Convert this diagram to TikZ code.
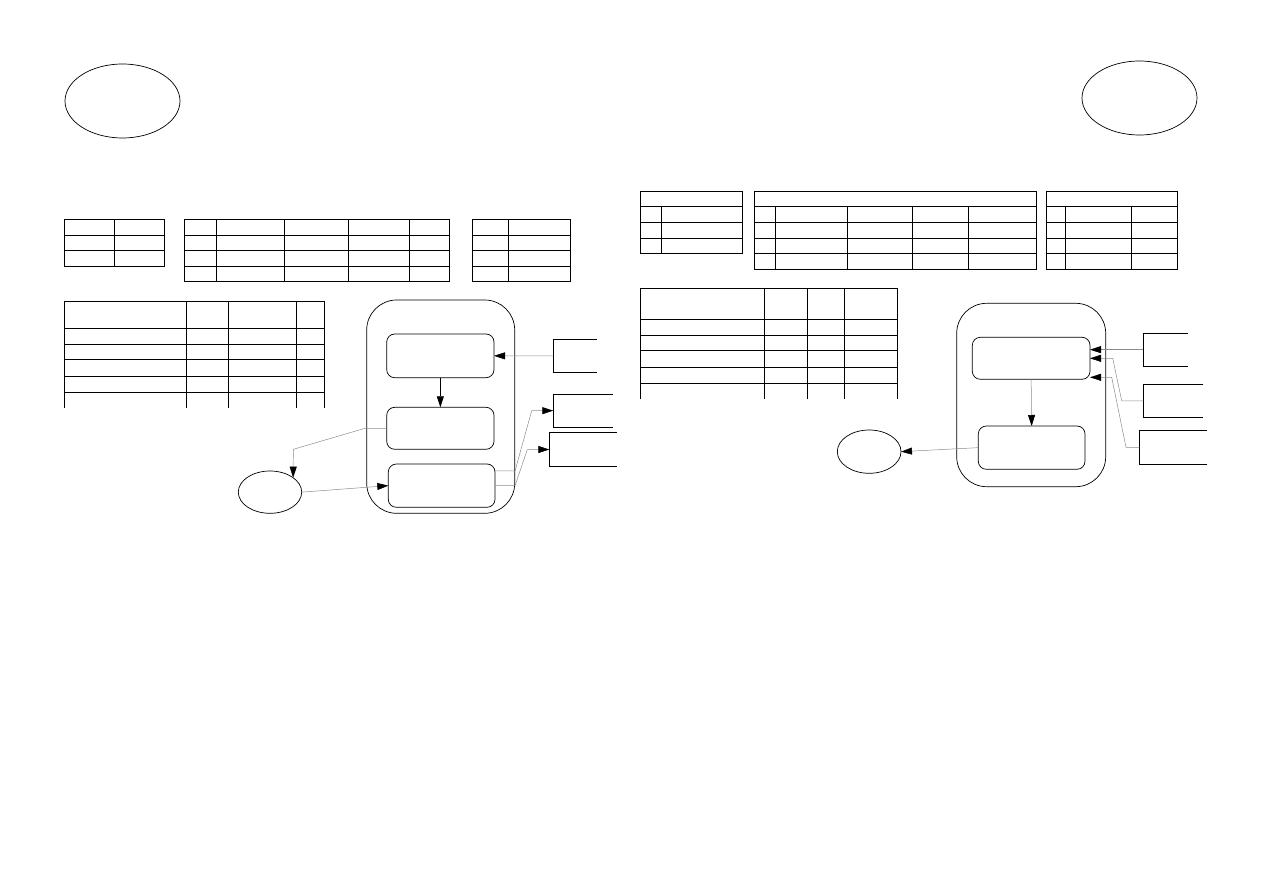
\documentclass[tikz,border=0pt]{standalone}
\usetikzlibrary{arrows.meta,shapes.geometric}
\tikzset{
  tbl/.style={line width=0.9pt, black, line cap=rect},
  shp/.style={draw, line width=0.7pt, inner sep=0pt, outer sep=0pt},
  inbox/.style={shp, rounded corners=8pt},
  outbox/.style={shp, rounded corners=30pt},
  ell/.style={shp, ellipse},
  stub/.style={inner sep=0pt, outer sep=0pt},
  stubline/.style={line width=0.7pt},
  tip/.style={-{Triangle[length=11pt,width=7pt,color=black]}},
  conn/.style={tip, black!45, line width=0.5pt},
  bconn/.style={tip, black, line width=0.7pt}
}
\newcommand\boxat[6]{\node[#1, minimum width={(#5-#3)*1pt}, minimum height={(#6-#4)*1pt}] (#2) at ({(#3+#5)/2},{(#4+#6)/2}) {};}
\newcommand\stubbox[1]{\draw[stubline] (#1.north east) -- (#1.north west) -- (#1.south west) -- (#1.south east);}
\begin{document}
\begin{tikzpicture}[x=1pt,y=-1pt]
\useasboundingbox (0,0) rectangle (1263,893);

% top ellipses
\boxat{ell}{topL}{65}{64}{180}{138}
\boxat{ell}{topR}{1082}{61}{1197}{135}

% ---------- left tables ----------
% Table A
\draw[tbl] (64.3,219.3) rectangle (164.3,266);
\draw[tbl] (64.3,235) -- (164.3,235) (64.3,250.7) -- (164.3,250.7) (114.3,219.3) -- (114.3,266);
% Table B
\draw[tbl] (184.3,219.3) rectangle (449.3,281.3);
\foreach \y in {235,250.7,266.3} \draw[tbl] (184.3,\y) -- (449.3,\y);
\foreach \x in {216.3,284.7,348.7,409.3} \draw[tbl] (\x,219.3) -- (\x,281.3);
% Table C
\draw[tbl] (472.3,219.3) rectangle (570,281.3);
\foreach \y in {235,250.7,266.3} \draw[tbl] (472.3,\y) -- (570,\y);
\draw[tbl] (508.7,219.3) -- (508.7,281.3);
% Table D
\foreach \x in {64.3,186.7,228.7,296.7,324.3} \draw[tbl] (\x,301.7) -- (\x,407.3);
\foreach \y in {301.7,328.3,344,359.3,376.3,392.3} \draw[tbl] (64.3,\y) -- (324.3,\y);

% ---------- right tables ----------
% Table E
\draw[tbl] (640.3,191.7) rectangle (742.3,253);
\foreach \y in {206,222.3,238.3} \draw[tbl] (640.3,\y) -- (742.3,\y);
\draw[tbl] (661.7,206) -- (661.7,253);
% Table F
\draw[tbl] (754.3,191.7) rectangle (1036,269);
\foreach \y in {206.7,222.3,238.3,253.7} \draw[tbl] (754.3,\y) -- (1036,\y);
\foreach \x in {775.3,847.3,912.3,968.7} \draw[tbl] (\x,206.7) -- (\x,269);
% Table G
\draw[tbl] (1046,191.7) rectangle (1177.3,269);
\foreach \y in {206.7,222.3,238.3,253.7} \draw[tbl] (1046,\y) -- (1177.3,\y);
\foreach \x in {1065.7,1131.7} \draw[tbl] (\x,206.7) -- (\x,269);
% Table H
\foreach \x in {640.3,764.7,807.7,844.7,897.3} \draw[tbl] (\x,288.3) -- (\x,398.3);
\foreach \y in {288.3,319.7,335.3,350.7,367.3,383.3} \draw[tbl] (640.3,\y) -- (897.3,\y);

% ---------- left diagram ----------
\boxat{outbox}{outL}{366.7}{300}{514.7}{513.3}
\boxat{inbox}{b11}{386.7}{334}{494}{377.7}
\boxat{inbox}{b12}{386.7}{407.3}{494}{449.3}
\boxat{inbox}{b13}{388.3}{464}{495}{507.3}
\boxat{ell}{e1}{238.3}{471}{301.7}{513.3}
\boxat{stub}{r11}{553.3}{339.3}{596.7}{372.3}
\boxat{stub}{r12}{553.3}{394}{612.7}{427.3}
\boxat{stub}{r13}{549.3}{432.3}{616.7}{466.7}
\stubbox{r11}
\stubbox{r12}
\stubbox{r13}

\draw[bconn] (b11.south) -- (b12.north);
\draw[conn] (b12.west) -- (365,428.3) -- (293.3,449.3) -- (e1.32);
\draw[conn] (e1.east) -- (b13.west);
\draw[conn] (r11.west) -- (b11.east);
\draw[conn] ([yshift=14.7pt]b13.east) -- (515,471) -- (531.7,410.7) -- (r12.west);
\draw[conn] (b13.east) -- (515,485.7) -- (527.3,449.5) -- (r13.west);

% ---------- right diagram ----------
\boxat{outbox}{outR}{956.7}{303.3}{1105.7}{486.7}
\boxat{inbox}{b21}{972.3}{337.3}{1090}{379.3}
\boxat{inbox}{b22}{978.3}{426}{1085}{469.3}
\boxat{ell}{e2}{837.3}{430}{901}{473.3}
\boxat{stub}{r21}{1143.3}{333.3}{1187.7}{366}
\boxat{stub}{r22}{1143.3}{384.3}{1203.3}{417.3}
\boxat{stub}{r23}{1139.3}{430.7}{1206.7}{464}
\stubbox{r21}
\stubbox{r22}
\stubbox{r23}

\draw[conn] (b21.south) -- (b22.north);
\draw[conn] (b22.west) -- (e2.east);
\draw[conn] (r21.west) -- (r21.west -| b21.east);
\draw[conn] (r22.west) -- (1121.7,400.8) -- (1112.7,358.3) -- (b21.east);
\draw[conn] (r23.west) -- (1126,447.3) -- (1111.7,377.3) -- ([yshift=-19pt]b21.east);
\end{tikzpicture}
\end{document}
